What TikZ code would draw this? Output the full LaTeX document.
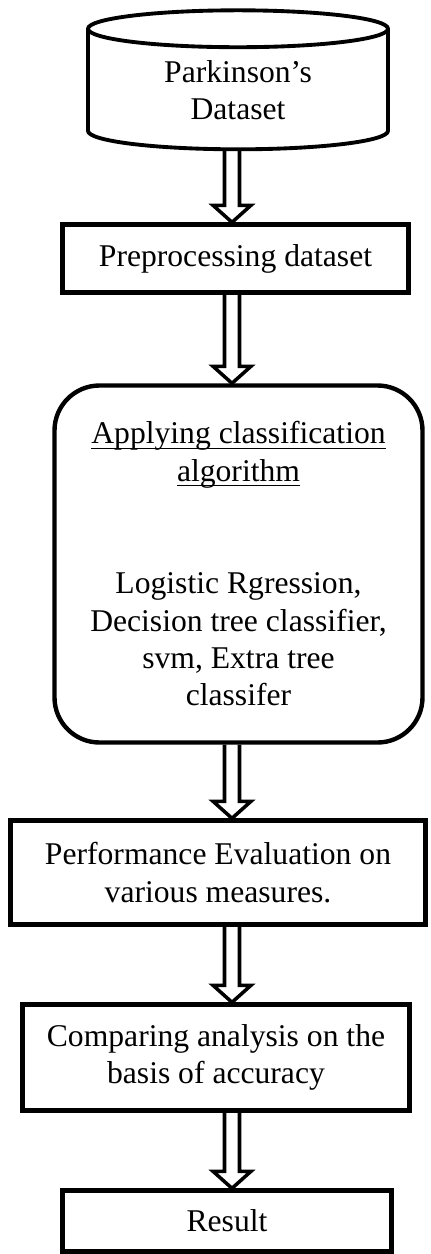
\documentclass[tikz,border=0pt]{standalone}
\usepackage{amsmath}
\usepackage{fontspec}
\setmainfont{Liberation Serif}
\usetikzlibrary{shapes.geometric, calc, positioning}

\begin{document}
\begin{tikzpicture}[
    box/.style={rectangle,draw,line width=2.5pt,align=center,inner sep=0pt,
                font=\fontsize{18pt}{21.3pt}\selectfont},
    stage/.style={box,rounded corners=0.9cm},
    store/.style={cylinder,shape border rotate=90,aspect=0.25,draw,
                  line width=2.2pt,align=center,inner sep=0pt,
                  font=\fontsize{18pt}{21.3pt}\selectfont},
    hollow/.style={draw,line width=2pt,line join=miter,
      to path={let \p1=(\tikztostart),\p2=(\tikztotarget) in
        (\x1-0.15cm,\y1) -- (\x1-0.15cm,\y2+0.34cm) -- (\x1-0.38cm,\y2+0.34cm)
        -- (\x1,\y2) -- (\x1+0.38cm,\y2+0.34cm) -- (\x1+0.15cm,\y2+0.34cm)
        -- (\x1+0.15cm,\y1)}}
  ]
  \useasboundingbox (0,0) rectangle (8.6,-25.08);

  \node[store,minimum width=6cm,minimum height=2.78cm] (data) at (4.76,-1.8)
    {Parkinson's\\Dataset};
  \node[box,minimum width=6.92cm,minimum height=1.36cm] (prep) at (4.71,-5.17)
    {Preprocessing dataset};
  \node[stage,minimum width=7.36cm,minimum height=7.14cm] (algo) at (4.77,-11.28)
    {\underline{\smash[b]{Applying classification}}\\
     \underline{\smash[b]{algorithm}}\\[42.6pt]
     Logistic Rgression,\\Decision tree classifier,\\svm, Extra tree\\classifer};
  \node[box,minimum width=8.3cm,minimum height=2.08cm] (perf) at (4.36,-17.45)
    {Performance Evaluation on\\various measures.};
  \node[box,minimum width=7.74cm,minimum height=2.12cm] (comp) at (4.32,-21.15)
    {Comparing analysis on the\\basis of accuracy};
  \node[box,minimum width=6.58cm,minimum height=1.22cm] (res) at (4.54,-24.42)
    {Result};

  % all arrows run down one vertical line
  \coordinate (spine) at (4.64,0);
  \draw[hollow] (data.south -| spine) to (spine |- prep.north);
  \draw[hollow] (prep.south -| spine) to (spine |- algo.north);
  \draw[hollow] (algo.south -| spine) to (spine |- perf.north);
  \draw[hollow] (perf.south -| spine) to (spine |- comp.north);
  \draw[hollow] (comp.south -| spine) to (spine |- res.north);
\end{tikzpicture}
\end{document}
